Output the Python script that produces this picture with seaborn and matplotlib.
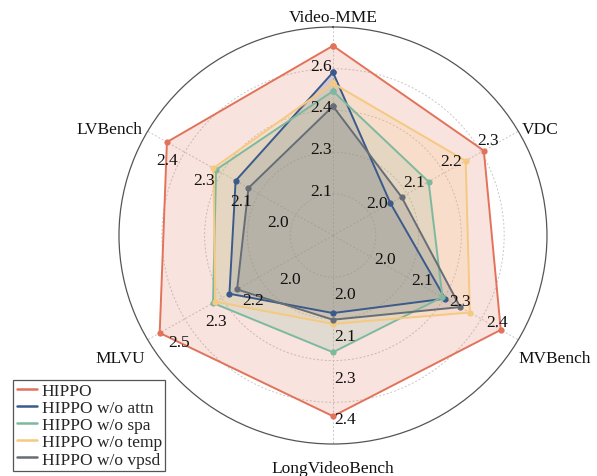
import numpy as np
import pandas as pd
import matplotlib
matplotlib.use("Agg")
import matplotlib.pyplot as plt
import seaborn as sns

# ---------------- data ----------------
benchmarks = ["Video-MME", "VDC", "MVBench", "LongVideoBench", "MLVU", "LVBench"]
axis_lo = [1.95, 1.90, 1.82, 1.82, 1.85, 1.82]
axis_hi = [2.75, 2.40, 2.57, 2.57, 2.65, 2.57]
tick_labels = [
    ["2.1", "2.3", "2.4", "2.6"],
    ["2.0", "2.1", "2.2", "2.3"],
    ["2.0", "2.1", "2.3", "2.4"],
    ["2.0", "2.1", "2.3", "2.4"],
    ["2.0", "2.2", "2.3", "2.5"],
    ["2.0", "2.1", "2.3", "2.4"],
]
series_names = ["HIPPO", "HIPPO w/o attn", "HIPPO w/o spa", "HIPPO w/o temp", "HIPPO w/o vpsd"]
hippo = [2.678, 2.307, 2.499, 2.470, 2.598, 2.492]
wo_attn = [2.576, 2.055, 2.274, 2.099, 2.297, 2.214]
wo_spa = [2.504, 2.158, 2.263, 2.240, 2.368, 2.293]
wo_temp = [2.534, 2.258, 2.374, 2.138, 2.358, 2.304]
wo_vpsd = [2.446, 2.085, 2.335, 2.123, 2.264, 2.162]
series_values = [hippo, wo_attn, wo_spa, wo_temp, wo_vpsd]
colors = ["#E2735A", "#3A5A8C", "#7DB99F", "#F5C97F", "#676D77"]

# ---------------- style ----------------
sns.set_theme(style="white")
plt.rcParams["font.family"] = ["Liberation Serif", "DejaVu Serif"]
FS = 12.5

n = len(benchmarks)
angles = np.arange(n) * 2 * np.pi / n
lo = np.array(axis_lo)
hi = np.array(axis_hi)

rows = []
for name, vals in zip(series_names, series_values):
    r = (np.array(vals) - lo) / (hi - lo)
    th_closed = np.append(angles, 2 * np.pi)
    r_closed = np.append(r, r[0])
    for th, rv in zip(th_closed, r_closed):
        rows.append({"series": name, "theta": th, "r": rv})
df = pd.DataFrame(rows)

fig = plt.figure(figsize=(5.97, 4.77), dpi=100)
ax = fig.add_axes([0.1993, 0.0671, 0.7169, 0.8742], projection="polar")
ax.set_aspect("auto")
ax.set_theta_zero_location("N")
ax.set_theta_direction(-1)

for name, col in zip(series_names, colors):
    sub = df[df["series"] == name]
    ax.fill(sub["theta"], sub["r"], color=col, alpha=0.2, linewidth=0, zorder=2)

sns.lineplot(data=df, x="theta", y="r", hue="series", palette=colors,
             sort=False, estimator=None, marker="o", markersize=4.5,
             markeredgewidth=0, linewidth=1.4, legend=False, ax=ax, zorder=3)
ax.set_xlabel("")
ax.set_ylabel("")

ax.set_ylim(0, 1)
ax.set_xticks(angles)
ax.set_xticklabels([])
ax.tick_params(axis="x", length=0)
ax.set_yticks([0.2, 0.4, 0.6, 0.8])
ax.set_yticklabels([])
ax.grid(True, color="#c8c8c8", linestyle=(0, (2, 2)), linewidth=0.7)
ax.spines["polar"].set_color("#555555")
ax.spines["polar"].set_linewidth(0.9)

# axis (benchmark) labels
label_offsets = [(0, 6), (21.7, -1.75), (36.7, -22.25), (0, -28), (-27.7, -22.25), (-37.7, -1.75)]
for k in range(n):
    ax.annotate(benchmarks[k], xy=(angles[k], 1.0), xytext=label_offsets[k],
                textcoords="offset pixels", ha="center", va="baseline",
                fontsize=FS, color="#111111", annotation_clip=False)

# per-axis tick labels
offsets = [(-12, -1), (7, 8), (15.5, -7), (12, -21), (-5.5, -27), (-18, -11.5)]
for k in range(n):
    for j, lab in enumerate(tick_labels[k]):
        ax.annotate(lab, xy=(angles[k], 0.2 * (j + 1)), xytext=offsets[k],
                    textcoords="offset pixels", ha="center", va="baseline",
                    fontsize=FS, color="#111111", zorder=5)

handles = [plt.Line2D([0], [0], color=c, lw=1.8) for c in colors]
leg = fig.legend(handles, series_names, loc="lower left",
                 bbox_to_anchor=(0.022, 0.0105), borderaxespad=0,
                 fontsize=FS, handlelength=1.2, handletextpad=0.25,
                 labelspacing=0.05, borderpad=0.2, fancybox=False,
                 framealpha=1, edgecolor="#555555")
leg.get_frame().set_linewidth(0.9)

fig.savefig("out.png", dpi=100)
